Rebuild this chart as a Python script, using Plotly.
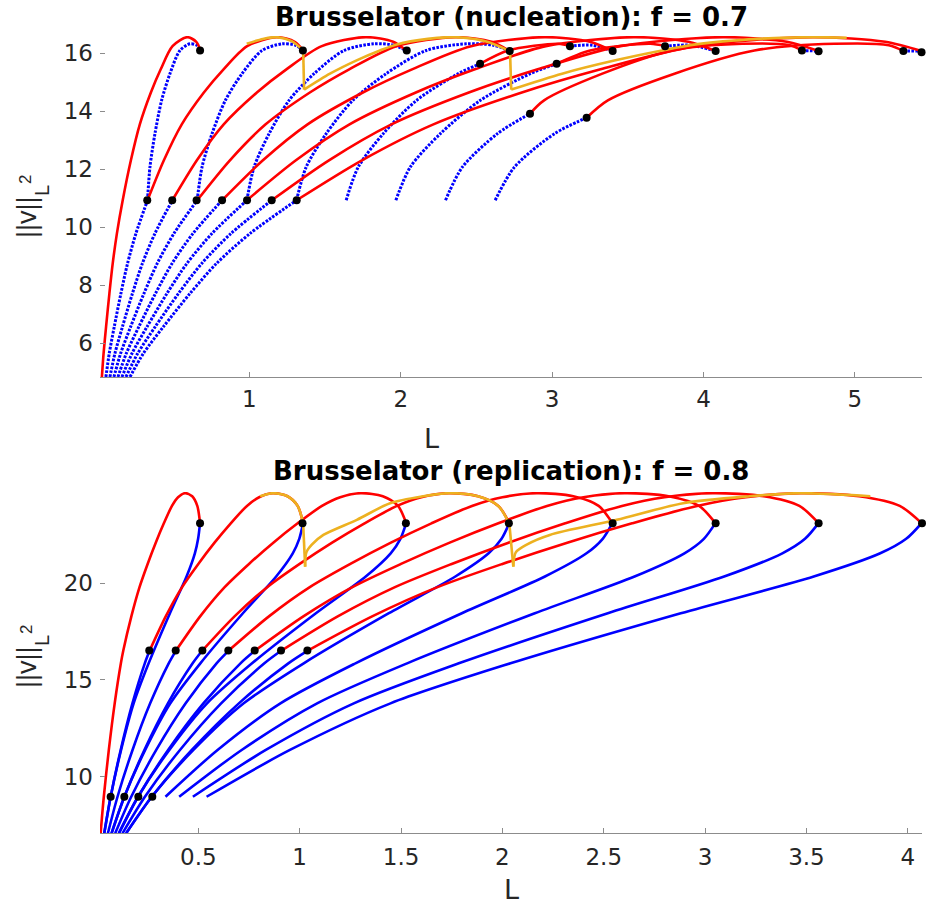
import plotly.graph_objects as go

RED = "#FF0000"
BLUE = "#0000FF"
ORANGE = "#EDB120"

# ======================= TOP PANEL: nucleation, f = 0.7 =======================
TOP_K = [1, 2, 3, 4, 5, 6, 7, 8]
# primary branch per unit multiplicity (L/k): lower part up to first bifurcation point
TOP_P_LOW_L = [0.0265, 0.0375, 0.054, 0.076, 0.098, 0.1255, 0.164]
TOP_P_LOW_V = [4.83, 5.64, 6.56, 7.71, 8.75, 9.78, 10.93]
# primary branch upper part (from bifurcation point over the top to the fold)
TOP_P_UP_L = [0.164, 0.218, 0.277, 0.35, 0.415, 0.493, 0.59, 0.65, 0.68]
TOP_P_UP_V = [10.93, 12.31, 13.55, 14.65, 15.45, 16.25, 16.56, 16.4, 16.08]
# secondary branch per unit multiplicity (from bifurcation point to the fold)
TOP_C_L = [0.328, 0.344, 0.377, 0.421, 0.476, 0.542, 0.608, 0.653, 0.68]
TOP_C_V = [10.93, 12.08, 13.23, 14.38, 15.3, 16.1, 16.33, 16.28, 16.08]
# stability changes on secondary branches k = 5..8
TOP_SPLIT_K = [5, 6, 7, 8]
TOP_SPLIT_L1 = [2.524, 3.03, 2.854, 3.228]
TOP_SPLIT_V1 = [15.64, 15.64, 13.92, 13.78]
TOP_SPLIT_L2 = [3.118, 3.746, 4.65, 5.32]
TOP_SPLIT_V2 = [16.25, 16.25, 16.1, 16.08]
# bifurcation / fold points
TOP_DBOT_L = [0.326, 0.491, 0.652, 0.820, 0.985, 1.148, 1.313]
TOP_DBOT_V = [10.93] * 7
TOP_DTOP_L = [0.675, 1.354, 2.04, 2.72, 3.40, 4.08, 4.76, 5.44]
TOP_DTOP_V = [16.1, 16.1, 16.1, 16.08, 16.08, 16.08, 16.07, 16.04]
# orange (period-doubling) path
TOP_OR1_L = [0.983, 1.09, 1.181, 1.28, 1.354]
TOP_OR1_V = [16.33, 16.5, 16.56, 16.42, 16.1]
TOP_ORV1_L = [1.356, 1.362]
TOP_ORV1_V = [16.1, 14.75]
TOP_OR2_L = [1.362, 1.533, 1.709, 1.863, 1.974, 2.18, 2.36, 2.56, 2.72]
TOP_OR2_V = [14.75, 15.3, 15.76, 16.1, 16.31, 16.5, 16.56, 16.42, 16.08]
TOP_ORV2_L = [2.722, 2.73]
TOP_ORV2_V = [16.08, 14.75]
TOP_OR3_L = [2.73, 3.066, 3.418, 3.726, 3.948, 4.36, 4.72, 4.946]
TOP_OR3_V = [14.75, 15.3, 15.76, 16.1, 16.31, 16.5, 16.56, 16.54]

# ====================== BOTTOM PANEL: replication, f = 0.8 ====================
BOT_K = [1, 2, 3, 4, 5, 6, 7, 8]
BOT_P_LOW_L = [0.018, 0.0338, 0.0585, 0.0875, 0.118, 0.13]
BOT_P_LOW_V = [7.07, 8.96, 11.38, 13.79, 15.86, 16.52]
BOT_P_UP_L = [0.13, 0.17, 0.21, 0.25, 0.29, 0.33, 0.37, 0.40, 0.434, 0.47, 0.495, 0.5085]
BOT_P_UP_V = [16.52, 18.3, 19.8, 21.0, 22.1, 23.1, 24.0, 24.45, 24.66, 24.5, 24.0, 23.11]
BOT_Q_L = [0.036, 0.0676, 0.119, 0.181, 0.255, 0.36, 0.442, 0.483, 0.499, 0.5085]
BOT_Q_V = [7.07, 8.96, 11.38, 13.79, 15.86, 18.45, 20.35, 21.55, 22.3, 23.11]
BOT_DLOW_L = [0.0676, 0.135, 0.204, 0.273]
BOT_DLOW_V = [8.96] * 4
BOT_DMID_L = [0.258, 0.3885, 0.52, 0.648, 0.778, 0.908, 1.038]
BOT_DMID_V = [16.52] * 7
BOT_DTOP_L = [0.5085, 1.014, 1.524, 2.032, 2.544, 3.052, 3.56, 4.07]
BOT_DTOP_V = [23.11] * 8
BOT_OR1_L = [0.805, 0.868, 0.94, 0.99, 1.017]
BOT_OR1_V = [24.5, 24.66, 24.5, 24.0, 23.11]
BOT_ORV1_L = [1.017, 1.027]
BOT_ORV1_V = [23.11, 20.86]
BOT_OR2_L = [1.027, 1.033, 1.06, 1.117, 1.282, 1.446, 1.61, 1.736, 1.88, 1.98, 2.032]
BOT_OR2_V = [20.86, 21.6, 22.0, 22.5, 23.28, 24.14, 24.5, 24.66, 24.5, 24.0, 23.11]
BOT_ORV2_L = [2.034, 2.054]
BOT_ORV2_V = [23.11, 20.86]
BOT_OR3_L = [2.054, 2.066, 2.12, 2.234, 2.564, 2.892, 3.22, 3.47, 3.815]
BOT_OR3_V = [20.86, 21.6, 22.0, 22.5, 23.28, 24.14, 24.5, 24.66, 24.5]

fig = go.Figure()


def add_line(L, V, color, xa, ya, dash=None, width=2.6, spline=True):
    fig.add_trace(go.Scatter(
        x=L, y=V, mode="lines", xaxis=xa, yaxis=ya,
        line=dict(color=color, width=width, dash=dash,
                  shape="spline" if spline else "linear", smoothing=0.8),
        hoverinfo="skip", showlegend=False))


def add_dots(L, V, xa, ya):
    fig.add_trace(go.Scatter(
        x=L, y=V, mode="markers", xaxis=xa, yaxis=ya, cliponaxis=False,
        marker=dict(color="black", size=8), hoverinfo="skip", showlegend=False))


def sc(Ls, k):
    return [l * k for l in Ls]


TOP_DASH = "2.6px,1.4px"
TW = 3.0

# ---------- top panel ----------
for k in TOP_K[1:]:
    add_line(sc(TOP_P_LOW_L, k), TOP_P_LOW_V, BLUE, "x", "y", dash=TOP_DASH, width=TW)
for k in TOP_K[:4]:
    add_line(sc(TOP_C_L, k), TOP_C_V, BLUE, "x", "y", dash=TOP_DASH, width=TW)
red_segments_top = []
for k, l1, v1, l2, v2 in zip(TOP_SPLIT_K, TOP_SPLIT_L1, TOP_SPLIT_V1, TOP_SPLIT_L2, TOP_SPLIT_V2):
    Ls = sc(TOP_C_L, k)
    Vs = TOP_C_V
    a = [(l, v) for l, v in zip(Ls, Vs) if l < l1] + [(l1, v1)]
    b = [(l1, v1)] + [(l, v) for l, v in zip(Ls, Vs) if l1 < l < l2] + [(l2, v2)]
    c = [(l2, v2)] + [(l, v) for l, v in zip(Ls, Vs) if l > l2]
    add_line([p[0] for p in a], [p[1] for p in a], BLUE, "x", "y", dash=TOP_DASH, width=TW)
    add_line([p[0] for p in c], [p[1] for p in c], BLUE, "x", "y", dash=TOP_DASH, width=TW)
    red_segments_top.append(b)
add_line(TOP_P_LOW_L + TOP_P_UP_L[1:], TOP_P_LOW_V + TOP_P_UP_V[1:], RED, "x", "y")
for k in TOP_K[1:]:
    add_line(sc(TOP_P_UP_L, k), TOP_P_UP_V, RED, "x", "y")
for b in red_segments_top:
    add_line([p[0] for p in b], [p[1] for p in b], RED, "x", "y")
add_line(TOP_OR1_L, TOP_OR1_V, ORANGE, "x", "y")
add_line(TOP_ORV1_L, TOP_ORV1_V, ORANGE, "x", "y", spline=False)
add_line(TOP_OR2_L, TOP_OR2_V, ORANGE, "x", "y")
add_line(TOP_ORV2_L, TOP_ORV2_V, ORANGE, "x", "y", spline=False)
add_line(TOP_OR3_L, TOP_OR3_V, ORANGE, "x", "y")
add_dots(TOP_DBOT_L, TOP_DBOT_V, "x", "y")
add_dots(TOP_DTOP_L, TOP_DTOP_V, "x", "y")
add_dots(TOP_SPLIT_L1 + TOP_SPLIT_L2, TOP_SPLIT_V1 + TOP_SPLIT_V2, "x", "y")

# ---------- bottom panel ----------
for j in BOT_K[:4]:
    add_line(sc(BOT_Q_L, j), BOT_Q_V, BLUE, "x2", "y2")
for j in BOT_K[4:]:
    add_line(sc(BOT_Q_L[1:], j), BOT_Q_V[1:], BLUE, "x2", "y2")
for k in BOT_K[1:]:
    add_line(sc(BOT_P_LOW_L, k), BOT_P_LOW_V, BLUE, "x2", "y2")
add_line(BOT_P_LOW_L + BOT_P_UP_L[1:], BOT_P_LOW_V + BOT_P_UP_V[1:], RED, "x2", "y2")
for k in BOT_K[1:]:
    add_line(sc(BOT_P_UP_L, k), BOT_P_UP_V, RED, "x2", "y2")
add_line(BOT_OR1_L, BOT_OR1_V, ORANGE, "x2", "y2")
add_line(BOT_ORV1_L, BOT_ORV1_V, ORANGE, "x2", "y2", spline=False)
add_line(BOT_OR2_L, BOT_OR2_V, ORANGE, "x2", "y2")
add_line(BOT_ORV2_L, BOT_ORV2_V, ORANGE, "x2", "y2", spline=False)
add_line(BOT_OR3_L, BOT_OR3_V, ORANGE, "x2", "y2")
add_dots(BOT_DLOW_L, BOT_DLOW_V, "x2", "y2")
add_dots(BOT_DMID_L, BOT_DMID_V, "x2", "y2")
add_dots(BOT_DTOP_L, BOT_DTOP_V, "x2", "y2")

W, H = 926, 905
TICKFONT = dict(family="DejaVu Sans", size=23, color="#262626")
AX = dict(ticks="inside", ticklen=5, tickcolor="#8c8c8c", tickwidth=1,
          showgrid=False, zeroline=False, tickfont=TICKFONT, automargin=False)
xdom = [100 / W, 922 / W]

fig.update_layout(
    width=W, height=H, margin=dict(l=0, r=0, t=0, b=0),
    paper_bgcolor="white", plot_bgcolor="white",
    xaxis=dict(domain=xdom, range=[0.014, 5.443], anchor="y", tickvals=[1, 2, 3, 4, 5],
               showline=True, linecolor="#8c8c8c", linewidth=1, ticklabelstandoff=1, **AX),
    yaxis=dict(domain=[(H - 377) / H, (H - 36) / H], range=[4.83, 16.6], anchor="x",
               tickvals=[6, 8, 10, 12, 14, 16], showline=False, ticklabelstandoff=6, **AX),
    xaxis2=dict(domain=xdom, range=[0.015, 4.07], anchor="y2",
                tickvals=[0.5, 1, 1.5, 2, 2.5, 3, 3.5, 4],
                showline=True, linecolor="#8c8c8c", linewidth=1, ticklabelstandoff=3, **AX),
    yaxis2=dict(domain=[(H - 833.3) / H, (H - 492) / H], range=[7.07, 24.72], anchor="x2",
                tickvals=[10, 15, 20], showline=False, ticklabelstandoff=6, **AX),
)

TITLEFONT = dict(family="DejaVu Sans", size=26, color="black")
LABELFONT = dict(family="DejaVu Sans", size=27, color="#262626")
YL_MAIN = dict(family="Liberation Sans", size=27, color="#262626")
YL_SUB = dict(family="Liberation Sans", size=20, color="#262626")
YL_SUP = dict(family="Liberation Sans", size=17, color="#262626")


def ann(text, px, py, font, angle=0):
    fig.add_annotation(text=text, x=px / W, y=1 - py / H, xref="paper", yref="paper",
                       xanchor="center", yanchor="middle", showarrow=False,
                       font=font, textangle=angle)


ann("<b>Brusselator (nucleation): f = 0.7</b>", 511, 17, TITLEFONT)
ann("<b>Brusselator (replication): f = 0.8</b>", 511, 471, TITLEFONT)
ann("L", 431, 438, LABELFONT)
ann("L", 511, 889, LABELFONT)
for dy in (0, 450):
    ann("||v||", 27, 217 + dy, YL_MAIN, angle=-90)
    ann("L", 42, 191 + dy, YL_SUB, angle=-90)
    ann("2", 26, 180 + dy, YL_SUP, angle=-90)

fig.write_html("out.html")
